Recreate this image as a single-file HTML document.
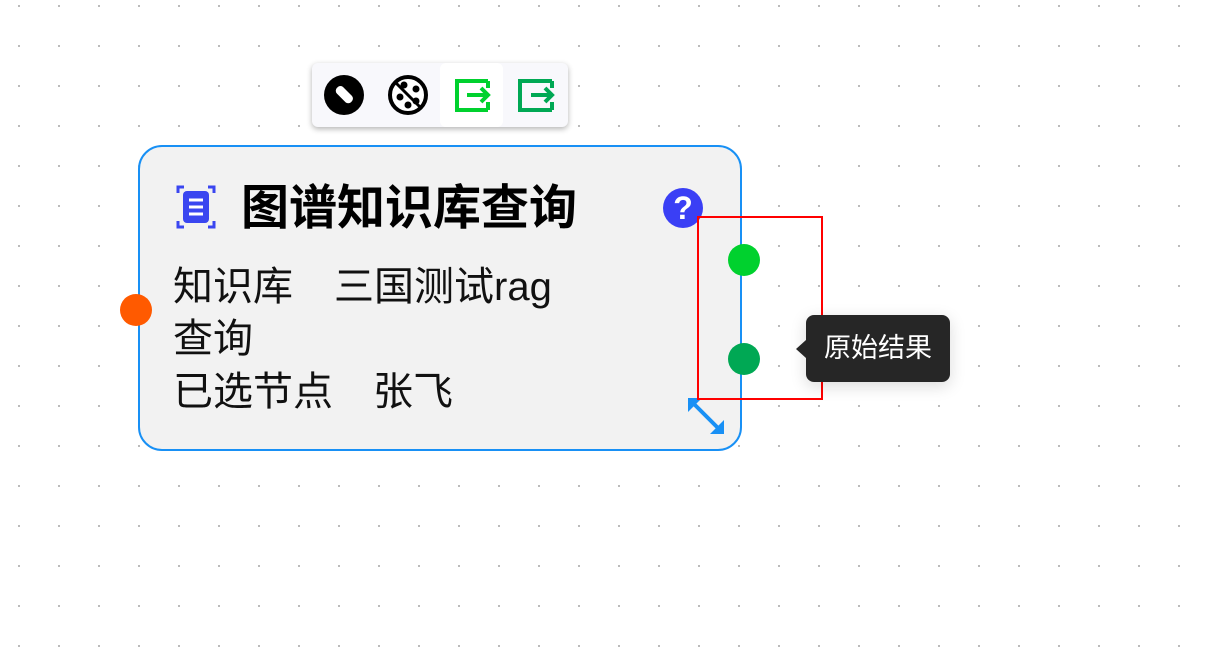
<!DOCTYPE html>
<html><head><meta charset="utf-8"><style>
body{margin:0;width:1217px;height:652px;overflow:hidden;background:#fff;
background-image:radial-gradient(circle,#aaa 0.9px,transparent 1.1px);background-size:40px 40px;background-position:-1px -14px;
font-family:"Liberation Sans","Noto Sans CJK SC",sans-serif;position:relative}
.a{position:absolute}
.t{position:absolute;font-size:40px;color:#111;white-space:nowrap;line-height:1}
</style></head><body>
<div class="a" style="left:312px;top:63px;width:256px;height:64px;background:#f8f8fc;border-radius:6px;box-shadow:0 2px 6px rgba(0,0,0,.3)"></div>
<div class="a" style="left:440px;top:63px;width:63px;height:64px;background:#fff;border-radius:6px"></div>
<svg class="a" style="left:312px;top:63px" width="256" height="64">
<circle cx="32" cy="32" r="20" fill="#000"/><rect x="22" y="27" width="20" height="9" rx="4" fill="#fff" transform="rotate(45 32 32)"/>
<circle cx="96" cy="32" r="18" fill="#fff" stroke="#000" stroke-width="4"/><circle cx="92" cy="22" r="3.5"/><circle cx="104" cy="26" r="3.5"/><circle cx="88" cy="34" r="3.5"/><circle cx="104" cy="38" r="3.5"/><circle cx="96" cy="42" r="3.5"/><line x1="84" y1="20" x2="108" y2="44" stroke="#000" stroke-width="3"/>
<path d="M176 18H145V47H176M176 39V47M176 18V25" fill="none" stroke="#00d12e" stroke-width="4"/><path d="M155 32H176M169 25L176 32L169 39" fill="none" stroke="#00d12e" stroke-width="4"/>
<path d="M240 18H208V47H240M240 39V47M240 18V25" fill="none" stroke="#00a854" stroke-width="4"/><path d="M219 32H240M233 25L240 32L233 39" fill="none" stroke="#00a854" stroke-width="4"/>
</svg>
<div class="a" style="left:138px;top:145px;width:600px;height:302px;border:2px solid #1890f5;border-radius:24px;background:#f2f2f2"></div>
<svg class="a" style="left:176px;top:185px" width="42" height="46">
<rect x="7" y="6" width="26" height="32" rx="4" fill="#3a46f0"/><path d="M13 15h14M13 22h14M13 29h14" stroke="#fff" stroke-width="3"/>
<path d="M2 8V2H8M32 2H38V8M2 36V42H8M32 42H38V36" fill="none" stroke="#3a46f0" stroke-width="3"/></svg>
<div class="t" style="left:241px;top:185px;font-size:48px;font-weight:bold;color:#000">图谱知识库查询</div>
<div class="a" style="left:663px;top:188px;width:40px;height:40px;border-radius:50%;background:#3a3ff5;color:#fff;font:bold 32px/40px 'Liberation Sans';text-align:center">?</div>
<div class="t" style="left:173px;top:267px">知识库</div>
<div class="t" style="left:334px;top:267px">三国测试rag</div>
<div class="t" style="left:173px;top:319px">查询</div>
<div class="t" style="left:173px;top:372px">已选节点</div>
<div class="t" style="left:373px;top:372px">张飞</div>
<svg class="a" style="left:686px;top:396px" width="40" height="40"><path d="M5 5L35 35" stroke="#1890f5" stroke-width="4"/><path d="M2 2H16L2 16Z M38 38H24L38 24Z" fill="#1890f5"/></svg>
<div class="a" style="left:120px;top:294px;width:32px;height:32px;border-radius:50%;background:#ff5a00"></div>
<div class="a" style="left:728px;top:244px;width:32px;height:32px;border-radius:50%;background:#00d12e"></div>
<div class="a" style="left:728px;top:343px;width:32px;height:32px;border-radius:50%;background:#00a854"></div>
<div class="a" style="left:697px;top:216px;width:122px;height:180px;border:2px solid #f00"></div>
<div class="a" style="left:806px;top:315px;width:144px;height:67px;border-radius:8px;background:#262626;box-shadow:0 4px 16px rgba(0,0,0,.15);color:#fff;font-size:27px;line-height:67px;text-align:center;font-family:'Liberation Sans','Noto Sans CJK SC',sans-serif">原始结果</div>
<div class="a" style="left:796px;top:340px;width:0;height:0;border-top:9px solid transparent;border-bottom:9px solid transparent;border-right:10px solid #262626"></div>
</body></html>
